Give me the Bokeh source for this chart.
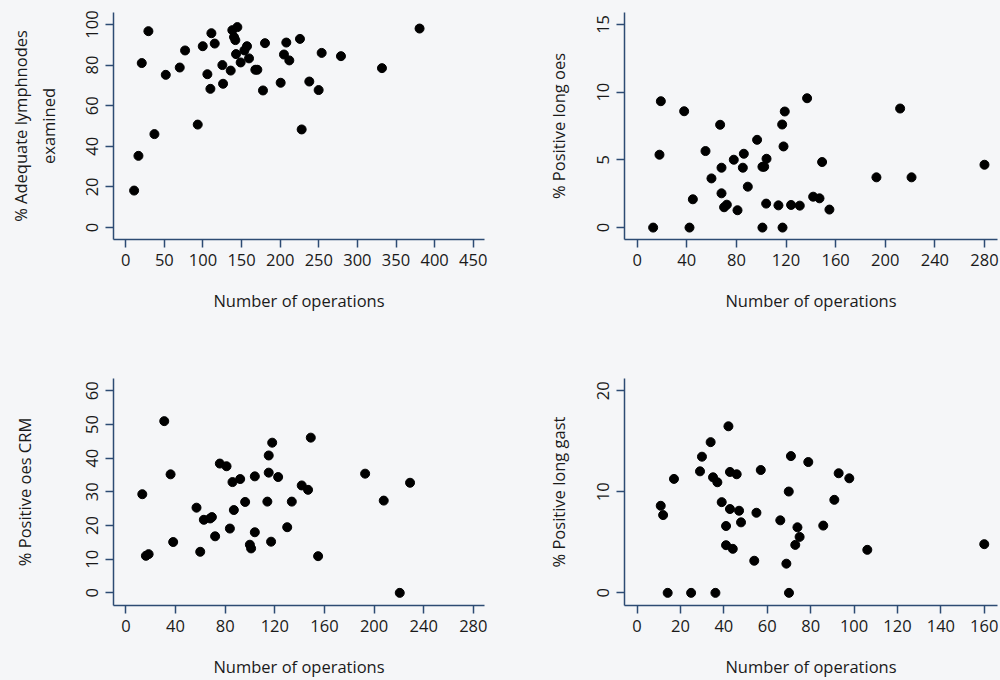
from bokeh.plotting import figure
from bokeh.layouts import gridplot
from bokeh.models import Range1d, FixedTicker, GlobalInlineStyleSheet
from bokeh.embed import file_html
from bokeh.resources import INLINE

# ---------------- data ----------------
x_label = "Number of operations"

# Panel 1: % adequate lymph nodes examined
ops_lymph = [10.8, 16.4, 20.7, 29.3, 37.1, 51.8, 69.9, 76.8, 93.2, 99.7, 105.7, 109.6,
             110.9, 115.2, 125.1, 126.0, 135.9, 138.0, 140.2, 141.9, 144.5, 142.8, 148.8,
             153.6, 157.0, 159.6, 167.8, 170.4, 177.7, 180.3, 200.6, 204.9, 207.9, 211.8,
             225.6, 227.8, 237.7, 249.8, 253.7, 278.7, 331.8, 380.5]
pct_lymph = [18.2, 35.3, 81.0, 96.7, 46.0, 75.2, 78.8, 87.2, 50.7, 89.3, 75.5, 68.3,
             95.7, 90.6, 80.0, 70.8, 77.3, 97.2, 93.8, 92.3, 98.7, 85.4, 81.3,
             87.2, 89.3, 83.3, 77.7, 77.7, 67.5, 90.8, 71.3, 85.2, 91.1, 82.3,
             92.9, 48.3, 71.9, 67.7, 86.0, 84.4, 78.5, 98.0]

# Panel 2: % positive longitudinal margin, oesophagectomy
ops_long_oes = [12.9, 18.0, 19.1, 37.9, 42.2, 44.9, 55.1, 59.9, 66.9, 68.0, 68.0, 70.1,
                72.3, 77.9, 80.9, 85.2, 86.0, 89.2, 96.7, 101.0, 101.0, 102.4, 104.3,
                104.0, 113.9, 116.9, 117.2, 118.0, 119.0, 124.1, 131.1, 137.0, 141.9,
                147.0, 149.1, 155.0, 192.9, 212.0, 221.2, 280.0]
pct_long_oes = [0.0, 5.38, 9.33, 8.59, 0.0, 2.09, 5.65, 3.63, 7.59, 4.42, 2.53, 1.50,
                1.69, 5.01, 1.28, 4.42, 5.45, 3.02, 6.48, 0.0, 4.49, 4.49, 5.08,
                1.77, 1.64, 7.61, 0.0, 5.99, 8.57, 1.67, 1.62, 9.55, 2.28,
                2.16, 4.84, 1.33, 3.71, 8.79, 3.71, 4.64]

# Panel 3: % positive circumferential resection margin, oesophagectomy
ops_crm = [13.2, 16.1, 18.3, 30.9, 36.0, 38.1, 56.9, 59.9, 62.8, 67.9, 69.3, 71.9,
           75.7, 81.1, 83.8, 85.9, 87.0, 92.1, 96.1, 99.9, 100.9, 103.9, 103.9,
           114.0, 115.1, 115.1, 117.0, 117.9, 122.7, 130.0, 133.7, 141.7, 146.8,
           149.0, 154.9, 192.8, 207.8, 220.7, 229.0]
pct_crm = [29.3, 11.0, 11.5, 51.0, 35.2, 15.1, 25.3, 12.2, 21.7, 22.1, 22.5, 16.8,
           38.4, 37.6, 19.1, 32.9, 24.6, 33.8, 27.0, 14.3, 13.2, 34.6, 18.0,
           27.1, 40.8, 35.7, 15.2, 44.6, 34.4, 19.5, 27.1, 31.9, 30.6,
           46.1, 10.9, 35.4, 27.4, 0.0, 32.7]

# Panel 4: % positive longitudinal margin, gastrectomy
ops_long_gast = [10.9, 12.0, 14.1, 17.0, 24.9, 29.0, 29.9, 33.9, 35.0, 36.1, 37.0, 39.0,
                 41.0, 41.0, 42.1, 42.8, 42.8, 44.1, 45.9, 47.0, 47.9, 54.0, 55.0,
                 57.0, 66.0, 68.8, 69.9, 70.0, 70.9, 72.9, 73.9, 74.9, 78.9, 85.8,
                 90.9, 92.9, 97.8, 106.1, 160.0]
pct_long_gast = [8.62, 7.70, 0.0, 11.28, 0.0, 12.03, 13.48, 14.92, 11.44, 0.0, 10.95, 8.98,
                 6.62, 4.72, 16.49, 11.97, 8.30, 4.36, 11.74, 8.13, 6.98, 3.18, 7.93,
                 12.16, 7.18, 2.89, 10.03, 0.0, 13.54, 4.75, 6.49, 5.54, 12.95, 6.66,
                 9.21, 11.84, 11.34, 4.26, 4.82]

xticks_lymph = [0, 50, 100, 150, 200, 250, 300, 350, 400, 450]
xticks_oes = [0, 40, 80, 120, 160, 200, 240, 280]
xticks_gast = [0, 20, 40, 60, 80, 100, 120, 140, 160]
yticks_lymph = [0, 20, 40, 60, 80, 100]
yticks_long_oes = [0, 5, 10, 15]
yticks_crm = [0, 10, 20, 30, 40, 50, 60]
yticks_long_gast = [0, 10, 20]

# ---------------- style ----------------
BG = "#f5f6f8"
AXIS = "#2d4b73"
TXT = "#1a1a1a"
FONT = "Open Sans"
FS = "16.5px"


def panel(xs, ys, xr, yr, xt, yt, ylab, w, h, bl, br, bt, bb, ystand):
    p = figure(width=w, height=h, x_range=Range1d(*xr), y_range=Range1d(*yr),
               output_backend="svg", toolbar_location=None,
               background_fill_color=BG, border_fill_color=BG,
               min_border_left=bl, min_border_right=br,
               min_border_top=bt, min_border_bottom=bb)
    p.outline_line_color = None
    p.grid.visible = False
    p.scatter(xs, ys, size=9, color="black")
    for ax in (p.xaxis[0], p.yaxis[0]):
        ax.axis_line_color = AXIS
        ax.axis_line_width = 1.5
        ax.major_tick_line_color = AXIS
        ax.major_tick_line_width = 1.5
        ax.major_tick_out = 8
        ax.major_tick_in = 0
        ax.minor_tick_line_color = None
        ax.major_label_text_font = FONT
        ax.major_label_text_font_size = FS
        ax.major_label_text_color = TXT
        ax.axis_label_text_font = FONT
        ax.axis_label_text_font_size = FS
        ax.axis_label_text_font_style = "normal"
        ax.axis_label_text_color = TXT
    p.xaxis.ticker = FixedTicker(ticks=xt)
    p.yaxis.ticker = FixedTicker(ticks=yt)
    p.yaxis.major_label_orientation = "vertical"
    p.yaxis.major_label_standoff = 7
    p.xaxis.major_label_standoff = 6
    p.xaxis.axis_label = x_label
    p.yaxis.axis_label = ylab
    p.xaxis.axis_label_standoff = 20
    p.yaxis.axis_label_standoff = ystand
    return p


p1 = panel(ops_lymph, pct_lymph, (-15.9, 464.6), (-5.9, 105.9), xticks_lymph, yticks_lymph,
           "% Adequate lymphnodes\nexamined", 500, 340, 113, 16, 12, 101, 24)
p2 = panel(ops_long_oes, pct_long_oes, (-10.2, 290.5), (-0.88, 15.88), xticks_oes, yticks_long_oes,
           "% Positive long oes", 500, 340, 124, 3, 12, 101, 25)
p3 = panel(ops_crm, pct_crm, (-10.0, 289.0), (-3.75, 63.66), xticks_oes, yticks_crm,
           "% Positive oes CRM", 500, 340, 113, 16, 38, 73, 48)
p4 = panel(ops_long_gast, pct_long_gast, (-5.8, 166.1), (-1.25, 21.22), xticks_gast, yticks_long_gast,
           "% Positive long gast", 500, 340, 124, 3, 38, 73, 25)

grid = gridplot([[p1, p2], [p3, p4]], toolbar_location=None)
grid.stylesheets = [GlobalInlineStyleSheet(css="html, body { background-color: #f5f6f8; }")]

open("out.html", "w").write(file_html(grid, INLINE))
